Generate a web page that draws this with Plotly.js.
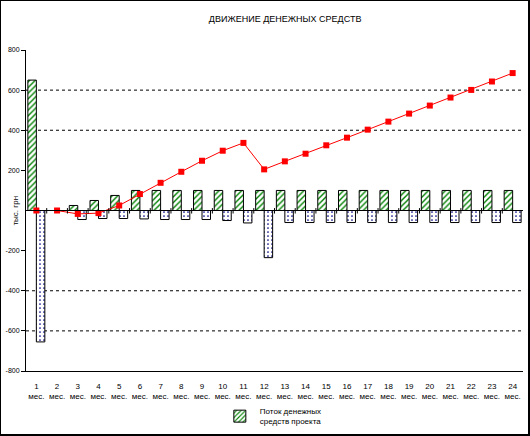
<!DOCTYPE html>
<html>
<head>
<meta charset="utf-8">
<script src="https://cdn.plot.ly/plotly-3.0.1.min.js"></script>
<style>
html,body{margin:0;padding:0;background:#fff;}
#wrap{position:relative;width:530px;height:436px;}
#chart{width:530px;height:436px;}
#frame{position:absolute;left:0;top:0;width:530px;height:436px;box-sizing:border-box;border:1px solid #000;border-right-width:2px;border-bottom-width:2px;pointer-events:none;}
</style>
</head>
<body>
<div id="wrap"><div id="chart"></div><div id="frame"></div></div>
<script>
const months = ['1','2','3','4','5','6','7','8','9','10','11','12','13','14','15','16','17','18','19','20','21','22','23','24'];
const monthLabels = months.map(m => m + '<br>мес.');
const inflow = [650,0,25,50,75,100,100,100,100,100,100,100,100,100,100,100,100,100,100,100,100,100,100,100];
const outflow = [-655,0,-45,-40,-40,-42,-45,-45,-45,-50,-62,-235,-60,-60,-60,-60,-60,-60,-60,-60,-60,-60,-60,-60];
const cumulative = [0,0,-17,-13,25,82,138,193,248,298,337,205,245,283,325,363,403,443,483,523,563,601,643,685];
const yTicks = [800,600,400,200,-200,-400,-600,-800];
const gridTicks = [600,400,-400,-600];

const font = {family:'Liberation Sans, Arial, sans-serif', size:8, color:'#000'};

const traces = [
  {type:'bar', x:monthLabels, y:inflow, name:'Поток денежных<br>средств проекта',
   marker:{color:'#fff', line:{color:'#000', width:1}, pattern:{shape:'/', fgcolor:'#008000', bgcolor:'#fff', size:4, solidity:0.35}},
   showlegend:true},
  {type:'bar', x:monthLabels, y:outflow, name:'Отток',
   marker:{color:'#fff', line:{color:'#000', width:1}, pattern:{shape:'.', fgcolor:'#000080', bgcolor:'#fff', size:4, solidity:0.15}},
   showlegend:false},
  {type:'scatter', mode:'lines+markers', x:monthLabels, y:cumulative, name:'Накопленный',
   line:{color:'#ff0000', width:1}, marker:{symbol:'square', size:6, color:'#ff0000'},
   showlegend:false}
];

const shapes = [];
gridTicks.forEach(v => shapes.push({type:'line', xref:'paper', yref:'y', x0:0, x1:1, y0:v, y1:v,
  line:{color:'#000', width:1, dash:'dot'}, layer:'below'}));
months.slice(0, -1).forEach((m, i) => shapes.push({type:'line', xref:'x', yref:'y', x0:i+0.5, x1:i+0.5, y0:12, y1:-15,
  line:{color:'#000', width:1}}));
shapes.push({type:'line', xref:'paper', yref:'y', x0:0, x1:1, y0:0, y1:0, line:{color:'#000', width:1}});

const layout = {
  width:530, height:436,
  margin:{l:26, r:7, t:50, b:65, autoexpand:false},
  paper_bgcolor:'#fff', plot_bgcolor:'#fff',
  font:font,
  title:{text:'ДВИЖЕНИЕ ДЕНЕЖНЫХ СРЕДСТВ', font:{family:font.family, size:9, color:'#000'}, x:0.538, xanchor:'center', y:0.957, yanchor:'middle'},
  barmode:'group', bargap:0.18, bargroupgap:0,
  xaxis:{type:'category', showline:true, linecolor:'#000', linewidth:1, ticks:'', showgrid:false, zeroline:false, automargin:false,
         range:[-0.5, months.length-0.5], tickfont:{family:font.family, size:8, color:'#000'}, tickangle:0, ticklabelstandoff:7},
  yaxis:{range:[-800,800], tickvals:yTicks, ticktext:yTicks.map(String), ticks:'outside', ticklen:4, tickcolor:'#000',
         showline:true, linecolor:'#000', linewidth:1, showgrid:false, zeroline:false, automargin:false,
         tickfont:{family:font.family, size:7, color:'#000'}},
  shapes:shapes,
  annotations:[{text:'тыс. грн', xref:'paper', yref:'paper', x:-0.022, y:0.5, xanchor:'center', yanchor:'middle',
                textangle:-90, showarrow:false, font:{family:font.family, size:8, color:'#000'}}],
  legend:{x:0.39, y:-0.088, xanchor:'left', yanchor:'top', font:{family:font.family, size:8, color:'#000'},
          bgcolor:'rgba(0,0,0,0)', itemwidth:30, tracegroupgap:0},
  showlegend:true
};

Plotly.newPlot('chart', traces, layout, {displayModeBar:false, staticPlot:true});
</script>
</body>
</html>
